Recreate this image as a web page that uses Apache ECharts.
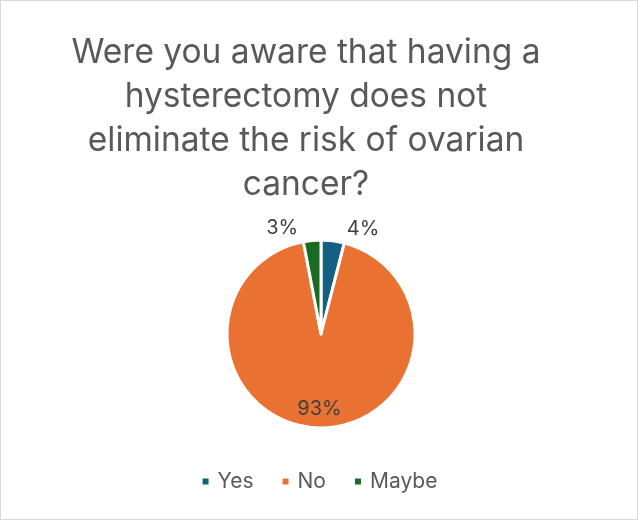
<!DOCTYPE html>
<html>
<head>
<meta charset="utf-8">
<script src="https://cdn.jsdelivr.net/npm/echarts@6/dist/echarts.min.js"></script>
<style>
  html, body { margin: 0; padding: 0; background: #fff; }
  #chart { width: 636px; height: 518px; border: 1px solid #d9d9d9; }
</style>
</head>
<body>
<div id="chart"></div>
<script>
// survey answers
var categories = ["Yes", "No", "Maybe"];
var percents = [4, 93, 3];
var colors = ["#156082", "#E97132", "#196B24"];

var font = "Inter, 'Open Sans', sans-serif";

// where each label sits relative to its slice
var labelSetup = [
  { position: "outside", offset: [9, -12] },
  { position: "inside", offset: [0, 25] },
  { position: "outside", offset: [-9, -12] }
];

var pieData = categories.map(function (name, i) {
  return {
    name: name,
    value: percents[i],
    itemStyle: { color: colors[i] },
    label: labelSetup[i]
  };
});

var chart = echarts.init(document.getElementById("chart"));
chart.setOption({
  animation: false,
  title: {
    text: "Were you aware that having a\nhysterectomy does not\neliminate the risk of ovarian\ncancer?",
    left: 300,
    top: 25,
    textAlign: "center",
    textStyle: {
      fontFamily: font,
      fontSize: 33.5,
      fontWeight: "normal",
      color: "#595959",
      lineHeight: 44
    }
  },
  legend: {
    bottom: 22,
    left: "center",
    icon: "rect",
    itemWidth: 8,
    itemHeight: 8,
    itemGap: 27,
    textStyle: { fontFamily: font, fontSize: 21, color: "#595959", padding: [0, 0, 0, 3] },
    data: categories
  },
  series: [
    {
      type: "pie",
      center: [320, 333],
      radius: 94,
      startAngle: 90,
      clockwise: true,
      itemStyle: { borderColor: "#fff", borderWidth: 3 },
      label: {
        formatter: "{c}%",
        fontFamily: font,
        fontSize: 20,
        color: "#404040"
      },
      labelLine: { show: false, length: 0, length2: 0 },
      emphasis: { disabled: true },
      data: pieData
    }
  ]
});
</script>
</body>
</html>
